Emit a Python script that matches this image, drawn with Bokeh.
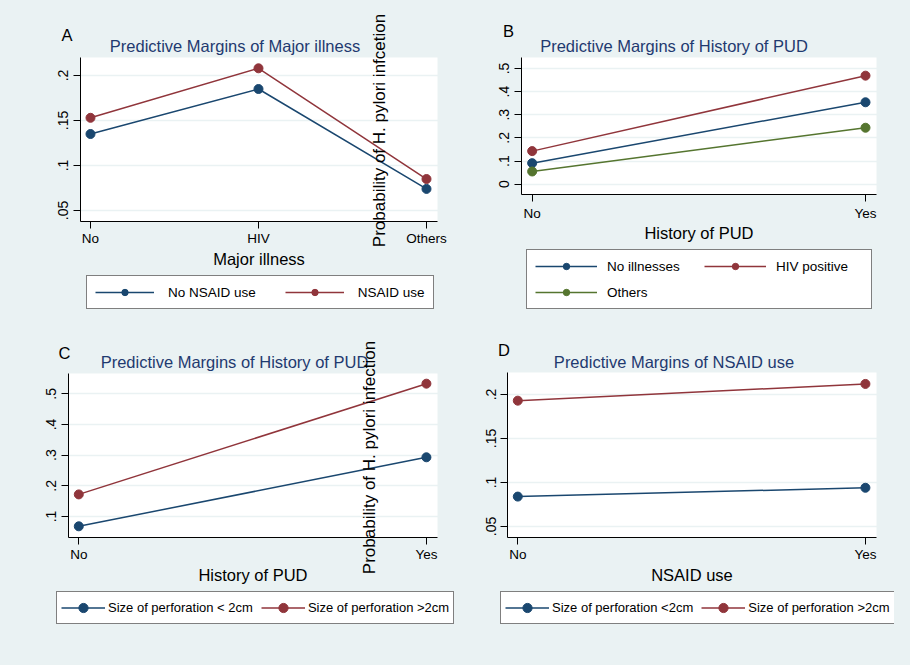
import math
from bokeh.plotting import figure
from bokeh.models import (Range1d, FixedTicker, Label, Legend, LegendItem,
                          ColumnDataSource, BoxAnnotation, GlobalInlineStyleSheet)
from bokeh.layouts import column, row
from bokeh.embed import file_html
from bokeh.resources import INLINE

# ---------------- data ----------------
illness_cats = ["No", "HIV", "Others"]
a_no_nsaid = [0.135, 0.185, 0.074]
a_nsaid = [0.153, 0.208, 0.085]

pud_cats = ["No", "Yes"]
b_no_illness = [0.091, 0.354]
b_hiv = [0.143, 0.469]
b_others = [0.055, 0.244]

c_small = [0.068, 0.293]
c_large = [0.172, 0.533]

nsaid_cats = ["No", "Yes"]
d_small = [0.084, 0.094]
d_large = [0.193, 0.212]

a_yticks = [0.05, 0.10, 0.15, 0.20]
a_ylabels = [".05", ".1", ".15", ".2"]
b_yticks = [0.0, 0.1, 0.2, 0.3, 0.4, 0.5]
b_ylabels = ["0", ".1", ".2", ".3", ".4", ".5"]
c_yticks = [0.1, 0.2, 0.3, 0.4, 0.5]
c_ylabels = [".1", ".2", ".3", ".4", ".5"]
d_yticks = [0.05, 0.10, 0.15, 0.20]
d_ylabels = [".05", ".1", ".15", ".2"]

# ---------------- style ----------------
BG = "#EAF2F3"
NAVY = "#1a476f"
MAROON = "#90353b"
GREEN = "#55752f"
TITLE_C = "#1f3a70"
FONT = "Liberation Sans"


def make_panel(origin, size, frame, xr, yr, cats, yticks, ylabels, xlabel,
               series, title, title_pos, letter, letter_pos, leg, vlabel=None,
               xl_standoff=2, al_standoff=1):
    ox, oy = origin
    w, h = size
    fl, ft, fr, fb = frame          # plot area, absolute pixels
    kx = (xr[1] - xr[0]) / (fr - fl)
    ky = (yr[1] - yr[0]) / (fb - ft)
    x0 = xr[0] - (fl - ox) * kx
    x1 = xr[1] + (ox + w - fr) * kx
    y1 = yr[1] + (ft - oy) * ky
    y0 = yr[0] - (oy + h - fb) * ky
    p = figure(width=w, height=h, x_range=Range1d(x0, x1), y_range=Range1d(y0, y1),
               output_backend="svg", toolbar_location=None, min_border=0)
    p.min_border_left = p.min_border_right = 0
    p.min_border_top = p.min_border_bottom = 0
    p.background_fill_color = BG
    p.border_fill_color = BG
    p.outline_line_color = None

    # white plot region
    p.add_layout(BoxAnnotation(left=xr[0], right=xr[1], bottom=yr[0], top=yr[1],
                               fill_color="white", fill_alpha=1,
                               line_color=None, level="image"))
    p.xgrid.visible = False
    p.ygrid.grid_line_color = BG
    p.ygrid.grid_line_width = 1.5
    p.ygrid.ticker = FixedTicker(ticks=yticks)

    xs = list(range(len(cats)))
    p.xaxis.ticker = FixedTicker(ticks=xs)
    p.xaxis.major_label_overrides = {i: c for i, c in enumerate(cats)}
    p.xaxis.fixed_location = yr[0]
    p.xaxis.bounds = (xr[0], xr[1])
    p.yaxis.ticker = FixedTicker(ticks=yticks)
    p.yaxis.major_label_overrides = {t: l for t, l in zip(yticks, ylabels)}
    p.yaxis.major_label_orientation = "vertical"
    p.yaxis.fixed_location = xr[0]
    p.yaxis.bounds = (yr[0], yr[1])
    for ax in (p.xaxis, p.yaxis):
        ax.axis_line_color = "black"
        ax.axis_line_width = 1
        ax.major_tick_line_color = "black"
        ax.major_tick_out = 7
        ax.major_tick_in = 0
        ax.minor_tick_line_color = None
        ax.major_label_text_font = FONT
        ax.major_label_text_color = "black"
    p.xaxis.major_label_text_font_size = "13.5px"
    p.yaxis.major_label_text_font_size = "14px"
    p.yaxis.major_label_standoff = 5
    p.xaxis.major_label_standoff = xl_standoff
    p.xaxis.axis_label = xlabel
    p.xaxis.axis_label_text_font = FONT
    p.xaxis.axis_label_text_font_size = "16.5px"
    p.xaxis.axis_label_text_font_style = "normal"
    p.xaxis.axis_label_text_color = "black"
    p.xaxis.axis_label_standoff = al_standoff

    def to_data(X, Y):
        return x0 + (X - ox) * kx, y1 - (Y - oy) * ky

    items = []
    for name, vals, color in series:
        src = ColumnDataSource(dict(x=xs, y=vals))
        lr = p.line("x", "y", source=src, line_color=color, line_width=1.5)
        sr = p.scatter("x", "y", source=src, size=9, fill_color=color,
                       line_color=color, marker="circle")
        items.append(LegendItem(label=name, renderers=[lr, sr]))

    bx, by = leg["box"]  # bottom-left corner of legend box (absolute px)
    legend = Legend(items=items, location=(bx - ox, oy + h - by),
                    orientation="horizontal",
                    background_fill_color="white", background_fill_alpha=1,
                    border_line_color="black", border_line_width=1,
                    label_text_font=FONT, label_text_font_size=leg.get("fs", "13.5px"),
                    label_text_color="black",
                    glyph_width=leg["gw"], glyph_height=leg.get("gh", 16),
                    label_height=16,
                    label_standoff=leg["so"], spacing=leg["sp"],
                    padding=leg.get("pad", 8), margin=0,
                    label_width=leg.get("lw", 20))
    if leg.get("ncols"):
        legend.ncols = leg["ncols"]
    p.add_layout(legend)

    tx, ty = to_data(*title_pos)
    p.add_layout(Label(x=tx, y=ty, text=title, text_font=FONT,
                       text_font_size="16.5px", text_color=TITLE_C,
                       text_align="center", text_baseline="middle"))
    lx2, ly2 = to_data(*letter_pos)
    p.add_layout(Label(x=lx2, y=ly2, text=letter, text_font=FONT,
                       text_font_size="16.5px", text_color="black",
                       text_align="center", text_baseline="middle"))
    if vlabel is not None:
        vx, vy = to_data(vlabel[1], vlabel[2])
        p.add_layout(Label(x=vx, y=vy, text=vlabel[0], text_font=FONT,
                           text_font_size="17px", text_color="black",
                           angle=math.pi / 2, text_align="center",
                           text_baseline="middle"))
    return p


pa = make_panel(
    origin=(0, 0), size=(455, 320), frame=(80, 57, 437, 221),
    xr=(-0.0595, 2.0655), yr=(0.0378, 0.22), cats=illness_cats,
    yticks=a_yticks, ylabels=a_ylabels, xlabel="Major illness",
    series=[("No NSAID use", a_no_nsaid, NAVY), ("NSAID use", a_nsaid, MAROON)],
    title="Predictive Margins of Major illness", title_pos=(234.5, 45),
    letter="A", letter_pos=(66.5, 34),
    leg=dict(box=(86, 309), gw=59, so=14, sp=29),
    vlabel=("Probability of H. pylori infcetion", 379, 130),
    xl_standoff=2, al_standoff=1)

pb = make_panel(
    origin=(455, 0), size=(439, 320), frame=(521, 57, 876, 194),
    xr=(-0.032, 1.033), yr=(-0.0445, 0.5475), cats=pud_cats,
    yticks=b_yticks, ylabels=b_ylabels, xlabel="History of PUD",
    series=[("No illnesses", b_no_illness, NAVY), ("HIV positive", b_hiv, MAROON),
            ("Others", b_others, GREEN)],
    title="Predictive Margins of History of PUD", title_pos=(673.5, 45),
    letter="B", letter_pos=(508, 30),
    leg=dict(box=(526, 309), gw=62, so=10, sp=10, lw=87, ncols=2),
    xl_standoff=4, al_standoff=0)

pc = make_panel(
    origin=(0, 320), size=(455, 329), frame=(68, 373, 437, 537),
    xr=(-0.0296, 1.0319), yr=(0.0315, 0.5662), cats=pud_cats,
    yticks=c_yticks, ylabels=c_ylabels, xlabel="History of PUD",
    series=[("Size of perforation < 2cm", c_small, NAVY),
            ("Size of perforation >2cm", c_large, MAROON)],
    title="Predictive Margins of History of PUD", title_pos=(234, 361),
    letter="C", letter_pos=(64, 352),
    leg=dict(box=(56, 624), gw=44, so=3, sp=8, pad=4, gh=23, fs="13px"),
    vlabel=("Probability of H. pylori infection", 369, 457),
    xl_standoff=2, al_standoff=1)

pd_ = make_panel(
    origin=(455, 320), size=(439, 329), frame=(507, 372, 876, 537),
    xr=(-0.0296, 1.0319), yr=(0.0375, 0.225), cats=nsaid_cats,
    yticks=d_yticks, ylabels=d_ylabels, xlabel="NSAID use",
    series=[("Size of perforation <2cm", d_small, NAVY),
            ("Size of perforation >2cm", d_large, MAROON)],
    title="Predictive Margins of NSAID use", title_pos=(673.5, 361),
    letter="D", letter_pos=(503.5, 349),
    leg=dict(box=(500, 624), gw=44, so=3, sp=8, pad=4, gh=23, fs="13px"),
    xl_standoff=2, al_standoff=1)

bg_css = GlobalInlineStyleSheet(css="html, body { background-color: %s; }" % BG)
layout = column(row(pa, pb, spacing=0, styles={"background-color": BG}),
                row(pc, pd_, spacing=0, styles={"background-color": BG}),
                spacing=0, styles={"background-color": BG}, stylesheets=[bg_css])
open("out.html", "w").write(file_html(layout, INLINE))
